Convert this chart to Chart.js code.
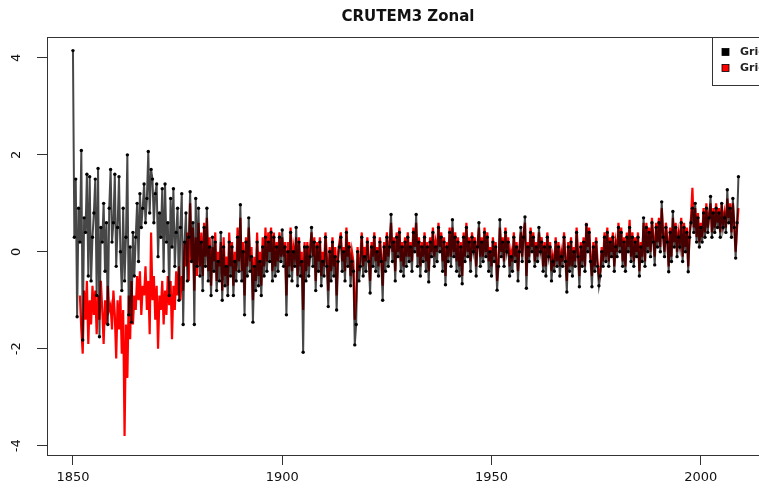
<!DOCTYPE html>
<html>
<head>
<meta charset="utf-8">
<script src="https://cdn.jsdelivr.net/npm/chart.js@4/dist/chart.umd.min.js"></script>
<style>
html,body{margin:0;padding:0;background:#fff;overflow:hidden;width:759px;height:493px;}
canvas{display:block;}
</style>
</head>
<body>
<canvas id="c" width="790" height="493"></canvas>
<script>
// ---- data (3 samples per year) ----
const chartTitle = "CRUTEM3 Zonal";
const seriesNames = ["Gridded", "Gridded zonal"];
const startYear = 1850;
const samplesPerYear = 3;
const xTicks = [1850, 1900, 1950, 2000];
const yTicks = [-4, -2, 0, 2, 4];

const blackValues = [
// 1850s
4.15,0.3,1.5, -1.34,0.9,0.2, 2.09,-1.82,0.7, 0.4,1.6,-0.5, 1.55,-0.6,0.3,
0.8,1.5,-0.9, 1.72,-1.75,0.5, 0.2,1.0,-0.4, 0.6,-1.5,0.9, 1.7,0.2,0.6,
// 1860s
1.6,-0.3,0.5, 1.55,0.0,-0.8, 0.9,-0.6,0.3, 2.0,-1.3,0.1, -1.45,0.4,-0.5,
0.3,1.0,-0.2, 1.2,0.5,0.9, 1.4,0.6,1.1, 2.07,0.8,1.7, 1.5,0.6,1.2,
// 1870s
1.4,-0.1,0.8, 0.3,1.3,-0.4, 1.4,0.2,0.6, -0.9,1.1,0.1, 1.3,-0.3,0.4,
0.9,-1.0,0.5, 1.2,-1.5,0.2, 0.8,-0.6,0.3, 1.24,-0.2,0.6, -1.5,1.1,-0.3,
// 1880s
0.9,-0.5,0.2, -0.8,0.5,-0.3, 0.9,-0.6,0.1, -0.9,0.3,-0.4, 0.2,-0.8,-0.2,
-0.6,0.4,-1.0, 0.1,-0.7,-0.3, -0.9,0.2,-0.5, 0.1,-0.9,-0.2, -0.6,0.3,-0.4,
// 1890s
0.97,-0.6,0.0, -1.3,0.2,-0.5, 0.7,-0.4,-0.1, -1.45,-0.3,-0.8, 0.2,-0.7,-0.2,
-0.9,0.1,-0.5, 0.3,-0.4,0.2, -0.2,0.4,-0.6, 0.3,-0.5,0.1, -0.4,0.3,-0.2,
// 1900s
0.45,-0.3,0.1, -1.3,0.0,-0.5, 0.4,-0.6,0.0, -0.3,0.5,-0.7, 0.2,-0.5,-0.2,
-2.07,0.1,-0.6, 0.1,-0.5,-0.1, 0.5,-0.3,0.2, -0.8,0.1,-0.4, 0.2,-0.7,-0.2,
// 1910s
-0.5,0.3,-0.3, -1.13,0.0,-0.6, 0.2,-0.5,-0.1, -1.2,-0.2,0.1, 0.3,-0.4,0.0,
-0.6,0.4,-0.3, 0.1,-0.7,-0.2, -0.4,-1.92,-1.5, 0.0,-0.6,-0.3, 0.3,-0.5,-0.1,
// 1920s
-0.4,0.2,-0.2, -0.85,0.1,-0.3, 0.3,-0.4,0.0, -0.5,0.2,-0.2, -1.0,0.1,-0.4,
0.3,-0.3,0.1, 0.77,-0.2,0.2, -0.6,0.3,-0.1, 0.4,-0.4,0.1, -0.5,0.2,-0.3,
// 1930s
0.3,-0.2,0.1, -0.4,0.4,0.0, 0.77,-0.3,0.2, -0.5,0.1,-0.2, 0.3,-0.4,0.1,
-0.62,0.2,-0.1, 0.4,-0.3,0.1, -0.2,0.5,0.0, 0.3,-0.4,0.2, -0.68,0.1,-0.2,
// 1940s
0.4,-0.3,0.66, -0.1,0.3,-0.4, 0.2,-0.5,0.1, -0.66,0.3,-0.2, 0.5,-0.1,0.2,
-0.4,0.3,0.0, 0.2,-0.5,0.1, 0.6,-0.3,0.2, -0.2,0.4,-0.1, 0.3,-0.4,0.0,
// 1950s
-0.5,0.2,-0.2, 0.1,-0.79,-0.3, 0.66,-0.1,0.2, -0.3,0.4,0.0, 0.2,-0.5,-0.1,
-0.4,0.3,-0.2, 0.1,-0.6,0.0, 0.5,-0.2,0.3, 0.72,-0.75,0.1, -0.2,0.4,0.0,
// 1960s
0.3,-0.3,0.1, -0.2,0.5,0.0, 0.2,-0.4,0.1, -0.5,0.3,-0.1, 0.1,-0.6,-0.2,
-0.4,0.2,-0.3, 0.1,-0.5,-0.1, -0.3,0.3,-0.2, -0.83,0.1,-0.4, 0.2,-0.5,0.0,
// 1970s
-0.3,0.4,-0.1, -0.72,0.1,-0.3, 0.2,-0.4,0.56, 0.0,0.4,-0.2, -0.72,0.1,-0.4,
0.2,-0.3,-0.7, -0.5,0.0,-0.3, 0.3,-0.2,0.4, -0.3,0.2,-0.1, 0.3,-0.4,0.1,
// 1980s
-0.1,0.5,0.0, 0.4,-0.3,0.2, -0.4,0.3,0.0, 0.5,-0.2,0.3, -0.3,0.2,-0.1,
0.3,-0.5,0.1, -0.2,0.7,-0.3, 0.5,0.0,0.4, -0.1,0.6,0.2, -0.27,0.5,0.1,
// 1990s
0.6,0.0,1.03, 0.3,-0.1,0.5, 0.2,-0.41,0.4, -0.2,0.83,0.1, 0.5,-0.1,0.3,
0.1,0.6,-0.2, 0.5,0.0,0.4, -0.41,0.3,0.6, 0.9,0.4,1.0, 0.2,0.7,0.1,
// 2000s
0.5,0.2,0.8, 0.3,0.9,0.4, 0.7,1.14,0.3, 0.8,0.4,0.9, 0.5,0.8,0.3,
1.0,0.5,0.7, 0.4,1.28,0.6, 0.9,0.3,1.1, 0.5,-0.13,0.6, 1.55
];

const redValues = [
// 1850s
null,null,null, null,null,-0.9, -1.6,-2.1,-0.8, -1.4,-0.6,-1.9, -1.0,-1.5,-0.7,
-1.3,-0.8,-1.7, -0.9,-1.4,-0.6, -1.2,-1.9,-1.0, -1.5,-0.7,-1.2, -1.1,-1.6,-0.8,
// 1860s
-1.3,-2.2,-1.0, -1.6,-0.9,-2.1, -1.2,-3.8,-1.5, -2.6,-0.9,-1.8, -0.6,-1.5,-0.9,
-1.2,-0.5,-1.0, -0.4,-1.3,-0.7, -0.9,-0.3,-1.2, -0.6,-1.7,0.4, -1.0,-0.5,-1.4,
// 1870s
-0.7,-2.0,-0.9, -1.2,-0.6,-1.5, -0.8,-1.3,-0.5, -1.1,-0.6,-1.8, -0.7,-1.2,-0.4,
-0.9,-0.3,-1.0, -0.5,-0.8,0.2, -0.3,0.4,-0.6, 1.0,-0.2,0.5, -0.8,0.3,-0.5,
// 1880s
0.6,-0.3,0.4, -0.5,0.6,-0.1, 0.7,-0.4,0.3, -0.7,0.1,-0.2, 0.4,-0.6,0.0,
-0.3,0.2,-0.8, 0.3,-0.5,-0.1, -0.7,0.4,-0.3, 0.2,-0.7,0.0, -0.4,0.5,-0.2,
// 1890s
0.7,-0.4,0.2, -0.9,0.3,-0.3, 0.5,-0.2,0.1, -1.0,-0.1,-0.6, 0.4,-0.5,0.0,
-0.7,0.3,-0.3, 0.5,-0.2,0.4, 0.0,0.5,-0.4, 0.4,-0.3,0.2, -0.2,0.4,-0.1,
// 1900s
0.3,-0.1,0.2, -0.9,0.2,-0.3, 0.5,-0.4,0.1, -0.1,0.3,-0.5, 0.3,-0.3,0.0,
-1.2,0.2,-0.4, 0.2,-0.3,0.1, 0.4,-0.1,0.3, -0.6,0.2,-0.2, 0.3,-0.5,0.0,
// 1910s
-0.3,0.4,-0.1, -0.8,0.1,-0.4, 0.3,-0.3,0.1, -0.9,0.0,0.2, 0.4,-0.2,0.1,
-0.4,0.5,-0.1, 0.2,-0.5,0.0, -0.2,-1.4,-1.0, 0.1,-0.4,-0.1, 0.4,-0.3,0.1,
// 1920s
-0.2,0.3,-0.1, -0.6,0.2,-0.1, 0.4,-0.2,0.1, -0.3,0.3,-0.1, -0.7,0.2,-0.2,
0.4,-0.1,0.2, 0.6,0.0,0.3, -0.4,0.4,0.0, 0.5,-0.2,0.2, -0.3,0.3,-0.1,
// 1930s
0.4,-0.1,0.2, -0.2,0.5,0.1, 0.6,-0.1,0.3, -0.3,0.2,-0.1, 0.4,-0.2,0.2,
-0.4,0.3,0.0, 0.5,-0.1,0.2, 0.0,0.6,0.1, 0.4,-0.2,0.3, -0.5,0.2,-0.1,
// 1940s
0.5,-0.1,0.5, 0.0,0.4,-0.2, 0.3,-0.3,0.2, -0.5,0.4,-0.1, 0.6,0.0,0.3,
-0.2,0.4,0.1, 0.3,-0.3,0.2, 0.5,-0.1,0.3, -0.1,0.5,0.0, 0.4,-0.2,0.1,
// 1950s
-0.3,0.3,-0.1, 0.2,-0.6,-0.2, 0.5,0.0,0.3, -0.2,0.5,0.1, 0.3,-0.3,0.0,
-0.2,0.4,-0.1, 0.2,-0.4,0.1, 0.4,-0.1,0.4, 0.6,-0.5,0.2, -0.1,0.5,0.1,
// 1960s
0.4,-0.2,0.2, -0.1,0.4,0.1, 0.3,-0.3,0.2, -0.3,0.4,0.0, 0.2,-0.4,-0.1,
-0.3,0.3,-0.2, 0.2,-0.3,0.0, -0.2,0.4,-0.1, -0.6,0.2,-0.3, 0.3,-0.3,0.1,
// 1970s
-0.2,0.5,0.0, -0.5,0.2,-0.2, 0.3,-0.3,0.6, 0.1,0.5,-0.1, -0.5,0.2,-0.3,
0.3,-0.2,-0.5, -0.4,0.1,-0.2, 0.4,-0.1,0.5, -0.2,0.3,0.0, 0.4,-0.3,0.2,
// 1980s
0.0,0.6,0.1, 0.5,-0.2,0.3, -0.3,0.4,0.1, 0.66,-0.1,0.4, -0.2,0.3,0.0,
0.4,-0.4,0.2, -0.1,0.6,-0.2, 0.6,0.1,0.5, 0.0,0.7,0.3, -0.1,0.6,0.2,
// 1990s
0.7,0.1,0.9, 0.4,0.0,0.6, 0.3,-0.3,0.5, -0.1,0.7,0.2, 0.6,0.0,0.4,
0.2,0.7,-0.1, 0.6,0.1,0.5, -0.3,0.4,0.7, 1.32,0.5,0.9, 0.3,0.8,0.2,
// 2000s
0.6,0.3,0.9, 0.4,1.0,0.5, 0.8,1.0,0.4, 0.9,0.5,1.0, 0.6,0.9,0.4,
1.0,0.6,0.8, 0.5,1.1,0.7, 1.0,0.4,1.0, 0.6,0.0,0.5, 0.9
];

// ---- build points ----
function toPoints(vals){
  return vals.map((v,i)=>({x: startYear + i/samplesPerYear, y: v}));
}

const FONT = "'DejaVu Sans', 'Liberation Sans', sans-serif";

const rFrame = {
  id: 'rFrame',
  afterDraw(chart){
    const {ctx, chartArea:a} = chart;
    ctx.save();
    // plot box
    ctx.strokeStyle = '#333';
    ctx.lineWidth = 1;
    ctx.strokeRect(Math.round(a.left)+0.5, Math.round(a.top)+0.5, Math.round(a.right-a.left), Math.round(a.bottom-a.top));
    // title
    ctx.fillStyle = '#111';
    ctx.font = "bold 15px " + FONT;
    ctx.textAlign = 'center';
    ctx.textBaseline = 'middle';
    ctx.fillText(chartTitle, (a.left+a.right)/2, 17);
    // legend box (top right, inside plot)
    const lx = 712, ly = Math.round(a.top)+0.5, lw = 120, lh = 48;
    ctx.fillStyle = '#fff';
    ctx.fillRect(lx, ly, lw, lh);
    ctx.strokeStyle = '#333';
    ctx.strokeRect(lx+0.5, ly, lw, lh);
    const colors = ['#000', '#ff0000'];
    ctx.font = "bold 11px " + FONT;
    ctx.textAlign = 'left';
    seriesNames.forEach((n,i)=>{
      const yy = ly + 15 + i*16;
      ctx.fillStyle = colors[i];
      ctx.fillRect(lx+10, yy-4, 7, 7);
      ctx.strokeStyle = '#000';
      ctx.lineWidth = 0.8;
      ctx.strokeRect(lx+10, yy-4, 7, 7);
      ctx.fillStyle = '#222';
      ctx.fillText(n, lx+28, yy);
    });
    ctx.restore();
  }
};

new Chart(document.getElementById('c'), {
  type: 'line',
  data: {
    datasets: [
      {
        label: seriesNames[1],
        data: toPoints(redValues),
        borderColor: 'rgb(255,0,0)',
        borderWidth: 2.2,
        pointRadius: 0,
        spanGaps: false,
        order: 2
      },
      {
        label: seriesNames[0],
        data: toPoints(blackValues),
        borderColor: 'rgba(0,0,0,0.72)',
        borderWidth: 2,
        pointRadius: 1.7,
        pointBackgroundColor: '#000',
        pointBorderWidth: 0,
        order: 1
      }
    ]
  },
  options: {
    responsive: false,
    animation: false,
    devicePixelRatio: 1,
    layout: { padding: { left: 0, top: 37, right: 21, bottom: 0 } },
    elements: { line: { tension: 0 } },
    plugins: { legend: { display: false }, title: { display: false }, tooltip: { enabled: false } },
    scales: {
      x: {
        type: 'linear',
        min: 1843.8,
        max: 2016.3,
        afterBuildTicks(s){ s.ticks = xTicks.map(v=>({value:v})); },
        afterFit(s){ s.height = 38; },
        grid: { drawOnChartArea: false, drawTicks: true, tickLength: 10, color: '#333', lineWidth: 1 },
        border: { display: false },
        ticks: { color: '#111', font: { family: FONT, size: 13 }, padding: 5, maxRotation: 0, minRotation: 0,
                 callback: v => String(v) }
      },
      y: {
        type: 'linear',
        min: -4.19,
        max: 4.43,
        afterBuildTicks(s){ s.ticks = yTicks.map(v=>({value:v})); },
        afterFit(s){ s.width = 47; },
        grid: { drawOnChartArea: false, drawTicks: true, tickLength: 10, color: '#333', lineWidth: 1 },
        border: { display: false },
        ticks: { color: '#111', font: { family: FONT, size: 13 }, padding: 14, minRotation: 90, maxRotation: 90,
                 crossAlign: 'center', callback: v => String(v) }
      }
    }
  },
  plugins: [rFrame]
});
</script>
</body>
</html>
